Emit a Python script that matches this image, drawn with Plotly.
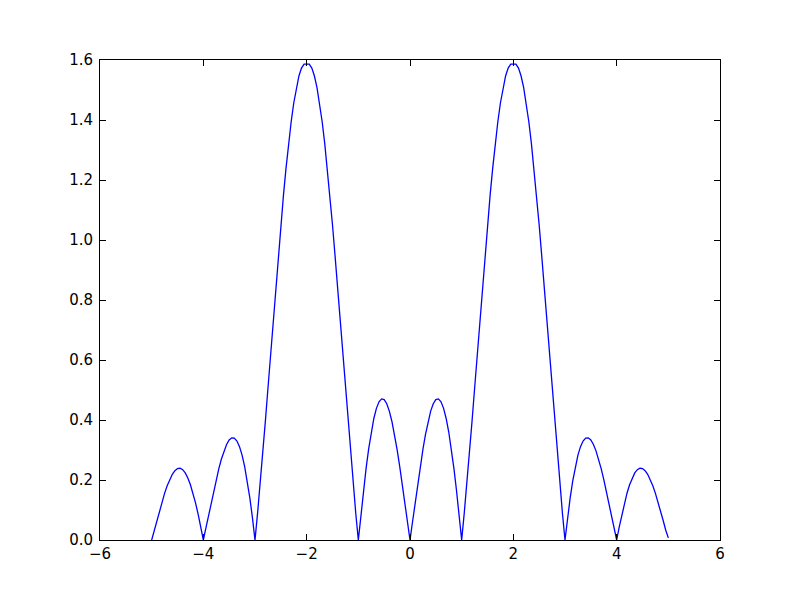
import numpy as np
import plotly.graph_objects as go

# sampling grid of the curve (x from -5 to 5, step 0.05)
x_values = np.round(np.linspace(-5, 5, 201), 2)

# curve values, x = -5.00 ... 5.00
y_values = [
    0.0, 0.0324, 0.0650, 0.0969, 0.1273, 0.1554, 0.1805, 0.2020, 0.2190, 0.2312,
    0.2380, 0.2391, 0.2343, 0.2235, 0.2066, 0.1840, 0.1560, 0.1228, 0.0853, 0.0441,
    0.0, 0.0401, 0.0813, 0.1227, 0.1633, 0.2020, 0.2379, 0.2700, 0.2972, 0.3186,
    0.3333, 0.3406, 0.3397, 0.3300, 0.3112, 0.2828, 0.2449, 0.1974, 0.1405, 0.0745,
    0.0, 0.0894, 0.1858, 0.2879, 0.3946, 0.5044, 0.6160, 0.7278, 0.8385, 0.9464,
    1.0500, 1.1479, 1.2388, 1.3212, 1.3942, 1.4567, 1.5077, 1.5467, 1.5729, 1.5863,
    1.5865, 1.5863, 1.5729, 1.5467, 1.5077, 1.4567, 1.3942, 1.3212, 1.2388, 1.1479,
    1.0500, 0.9464, 0.8385, 0.7278, 0.6160, 0.5044, 0.3946, 0.2879, 0.1858, 0.0894,
    0.0, 0.0847, 0.1649, 0.2385, 0.3040, 0.3599, 0.4051, 0.4389, 0.4607, 0.4703,
    0.4680, 0.4541, 0.4295, 0.3951, 0.3521, 0.3019, 0.2462, 0.1864, 0.1243, 0.0617,
    0.0, 0.0617, 0.1243, 0.1864, 0.2462, 0.3019, 0.3521, 0.3951, 0.4295, 0.4541,
    0.4680, 0.4703, 0.4607, 0.4389, 0.4051, 0.3599, 0.3040, 0.2385, 0.1649, 0.0847,
    0.0, 0.0894, 0.1858, 0.2879, 0.3946, 0.5044, 0.6160, 0.7278, 0.8385, 0.9464,
    1.0500, 1.1479, 1.2388, 1.3212, 1.3942, 1.4567, 1.5077, 1.5467, 1.5729, 1.5863,
    1.5865, 1.5863, 1.5729, 1.5467, 1.5077, 1.4567, 1.3942, 1.3212, 1.2388, 1.1479,
    1.0500, 0.9464, 0.8385, 0.7278, 0.6160, 0.5044, 0.3946, 0.2879, 0.1858, 0.0894,
    0.0, 0.0745, 0.1405, 0.1974, 0.2449, 0.2828, 0.3112, 0.3300, 0.3397, 0.3406,
    0.3333, 0.3186, 0.2972, 0.2700, 0.2379, 0.2020, 0.1633, 0.1227, 0.0813, 0.0401,
    0.0, 0.0441, 0.0853, 0.1228, 0.1560, 0.1840, 0.2066, 0.2235, 0.2343, 0.2391,
    0.2380, 0.2312, 0.2190, 0.2020, 0.1805, 0.1554, 0.1273, 0.0969, 0.0650, 0.0324,
    0.007,
]

x_tickvals = [-6, -4, -2, 0, 2, 4, 6]
x_ticktext = ["\u22126", "\u22124", "\u22122", "0", "2", "4", "6"]
y_tickvals = [0.0, 0.2, 0.4, 0.6, 0.8, 1.0, 1.2, 1.4, 1.6]
y_ticktext = ["0.0", "0.2", "0.4", "0.6", "0.8", "1.0", "1.2", "1.4", "1.6"]

fig = go.Figure()
fig.add_trace(go.Scatter(
    x=x_values, y=y_values, mode="lines",
    line=dict(color="#0000ff", width=1.3),
    showlegend=False, hoverinfo="skip",
))

axis_common = dict(
    showline=True, linecolor="black", linewidth=1, mirror="ticks",
    ticks="inside", ticklen=6, tickwidth=1, tickcolor="black",
    showgrid=False, zeroline=False,
    tickfont=dict(family="DejaVu Sans", size=15, color="black"),
)

fig.update_layout(
    width=800, height=600,
    margin=dict(l=92, r=88, t=52, b=68),
    paper_bgcolor="white", plot_bgcolor="white",
    xaxis=dict(range=[-6, 6], tickmode="array", tickvals=x_tickvals,
               ticktext=x_ticktext, ticklabelstandoff=0, **axis_common),
    yaxis=dict(range=[0, 1.6], tickmode="array", tickvals=y_tickvals,
               ticktext=y_ticktext, ticklabelstandoff=3, **axis_common),
)

fig.write_html("out.html")
